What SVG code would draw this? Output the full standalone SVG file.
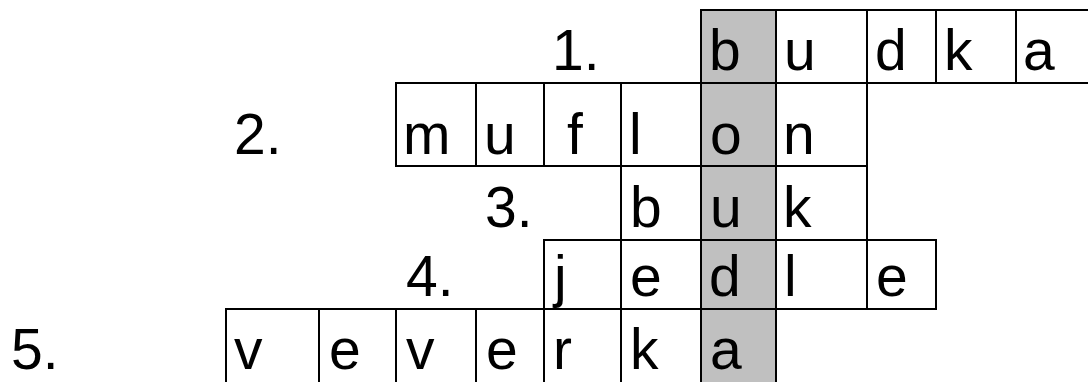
<svg xmlns="http://www.w3.org/2000/svg" width="1088" height="382" viewBox="0 0 1088 382">
  <style>
    .c { fill: #ffffff; stroke: #000000; stroke-width: 2; }
    .g { fill: #c0c0c0; stroke: #000000; stroke-width: 2; }
    text { font-family: "Liberation Sans", Arial, sans-serif; font-size: 57px; fill: #000000; }
  </style>
  <rect x="0" y="0" width="1088" height="382" fill="#ffffff"/>
  <g id="row1">
    <text x="552" y="70">1.</text>
    <rect class="g" x="701" y="10" width="75" height="73"/>
    <rect class="c" x="776" y="10" width="91" height="73"/>
    <rect class="c" x="867" y="10" width="69" height="73"/>
    <rect class="c" x="936" y="10" width="80" height="73"/>
    <rect class="c" x="1016" y="10" width="80" height="73"/>
    <text x="709" y="70">b</text>
    <text x="784" y="70">u</text>
    <text x="875" y="70">d</text>
    <text x="944" y="70">k</text>
    <text x="1023" y="70">a</text>
  </g>
  <g id="row2">
    <text x="234" y="154">2.</text>
    <rect class="c" x="396" y="83" width="80" height="83"/>
    <rect class="c" x="476" y="83" width="68" height="83"/>
    <rect class="c" x="544" y="83" width="77" height="83"/>
    <rect class="c" x="621" y="83" width="80" height="83"/>
    <rect class="g" x="701" y="83" width="75" height="83"/>
    <rect class="c" x="776" y="83" width="91" height="83"/>
    <text x="403" y="154">m</text>
    <text x="484" y="154">u</text>
    <text x="567" y="154">f</text>
    <text x="629" y="154">l</text>
    <text x="710" y="154">o</text>
    <text x="783" y="154">n</text>
  </g>
  <g id="row3">
    <text x="485" y="227">3.</text>
    <rect class="c" x="621" y="166" width="80" height="74"/>
    <rect class="g" x="701" y="166" width="75" height="74"/>
    <rect class="c" x="776" y="166" width="91" height="74"/>
    <text x="630" y="227">b</text>
    <text x="710" y="227">u</text>
    <text x="783" y="227">k</text>
  </g>
  <g id="row4">
    <text x="406" y="296">4.</text>
    <rect class="c" x="544" y="240" width="77" height="69"/>
    <rect class="c" x="621" y="240" width="80" height="69"/>
    <rect class="g" x="701" y="240" width="75" height="69"/>
    <rect class="c" x="776" y="240" width="91" height="69"/>
    <rect class="c" x="867" y="240" width="69" height="69"/>
    <text x="554" y="296">j</text>
    <text x="630" y="296">e</text>
    <text x="709" y="296">d</text>
    <text x="784" y="296">l</text>
    <text x="876" y="296">e</text>
  </g>
  <g id="row5">
    <text x="11" y="369">5.</text>
    <rect class="c" x="226" y="309" width="93" height="80"/>
    <rect class="c" x="319" y="309" width="77" height="80"/>
    <rect class="c" x="396" y="309" width="80" height="80"/>
    <rect class="c" x="476" y="309" width="68" height="80"/>
    <rect class="c" x="544" y="309" width="77" height="80"/>
    <rect class="c" x="621" y="309" width="80" height="80"/>
    <rect class="g" x="701" y="309" width="75" height="80"/>
    <text x="234" y="369">v</text>
    <text x="329" y="369">e</text>
    <text x="406" y="369">v</text>
    <text x="486" y="369">e</text>
    <text x="553" y="369">r</text>
    <text x="630" y="369">k</text>
    <text x="710" y="369">a</text>
  </g>
  <g id="connectors"></g>
</svg>
